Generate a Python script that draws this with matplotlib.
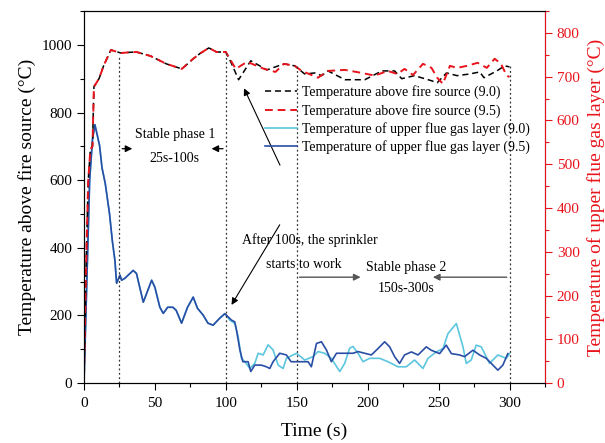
import matplotlib
matplotlib.use("Agg")
import matplotlib.pyplot as plt
from matplotlib.ticker import MultipleLocator

plt.rcParams['font.family'] = ['Liberation Serif', 'DejaVu Serif']

# --- data ---
# temperature above fire source, both runs share the curve up to 100 s
fire_t_early = [0, 1.5, 3, 4.5, 6, 7, 10.6, 14, 19, 26, 32, 37, 47, 58, 69, 77, 82, 88, 93.5, 100]
fire_v_early = [20, 350, 600, 690, 700, 876, 900, 940, 985, 976, 978, 979, 967, 944, 929, 959, 975, 991, 979, 979]

fire95_t_late = [107, 115, 127, 135, 141, 148.6, 153.5, 165, 172, 184, 196, 205, 214, 221, 226, 232,
                 239, 245, 249, 253, 258, 263, 270, 277.5, 284, 289.5, 294, 298, 300]
fire95_v_late = [929, 950, 929, 920, 944, 938, 923, 903, 923, 926, 917, 909, 923, 914, 929, 911,
                 944, 932, 903, 885, 938, 932, 938, 947, 932, 959, 944, 909, 905]

fire90_t_late = [104, 109, 117.6, 129, 141, 148.6, 155.6, 162.7, 167.6, 172, 184, 198, 210, 219, 224,
                 233, 245, 249, 255.6, 263, 272, 279, 282, 291, 296.5, 300]
fire90_v_late = [945, 897, 953, 926, 944, 938, 914, 917, 909, 923, 897, 897, 923, 923, 900,
                 909, 894, 888, 917, 909, 914, 920, 903, 923, 938, 935]

# temperature of upper flue gas layer, shared up to ~100 s
gas_t_early = [0, 2, 4, 6, 7.7, 9, 11, 12.7, 15, 18, 20, 21.8, 23, 25.4, 26.5, 28.9, 34.7, 37, 41.8,
               45, 47.7, 50, 53.5, 55.9, 59, 62.7, 65, 68.8, 73, 77, 80, 84, 87.4, 91, 95.8, 99.3]
gas_v_early = [0, 300, 600, 720, 764, 740, 702, 637, 590, 501, 420, 363, 295, 319, 304, 310, 333, 324, 239,
               274, 304, 283, 224, 206, 224, 224, 215, 177, 224, 254, 221, 201, 177, 171, 192, 205]

gas95_t_late = [104, 106.3, 107.5, 109.9, 112, 115.7, 117.6, 120.4, 125, 128.6, 131, 133.3, 138, 142.7,
                146, 149.8, 158, 160.3, 163.9, 167.4, 170.9, 174.4, 178, 183.8, 189.7, 193.2, 197.9,
                202.6, 207.3, 212, 215.5, 219, 222.5, 226, 230.8, 235.5, 241.3, 244.8, 250.7, 255.4,
                259, 264.8, 268.3, 274.2, 278.9, 283.6, 288.3, 291.8, 295.3, 298.8]
gas95_v_late = [186, 181, 157, 98, 63, 63, 34, 53, 53, 48, 43, 63, 88, 83,
                63, 63, 63, 48, 117, 122, 98, 63, 88, 88, 88, 93, 88,
                83, 102, 122, 107, 78, 58, 83, 92, 83, 107, 97, 87, 112,
                87, 83, 78, 97, 83, 73, 53, 38, 53, 87]

gas90_t_late = [102.8, 106.3, 108.7, 111, 113.4, 116.9, 120.4, 122.8, 126.3, 129.8, 133.3, 136.9, 140.4,
                142.7, 149.8, 155.6, 161.5, 165, 169.7, 174.4, 180.3, 183.8, 187.3, 189.7, 193.2, 196.7,
                201.4, 208.5, 214.3, 221.4, 227.2, 233.1, 239, 242.5, 248.4, 253.1, 256.6, 262.5, 267.2,
                269.5, 273, 276.5, 280.1, 285.9, 291.8, 297.7, 300]
gas90_v_late = [186, 176, 137, 73, 63, 43, 58, 88, 83, 113, 98, 53, 43,
                73, 88, 68, 78, 93, 88, 73, 34, 58, 103, 108, 88, 63,
                73, 73, 63, 48, 48, 68, 43, 73, 92, 102, 146, 176, 107,
                58, 68, 112, 107, 58, 83, 73, 87]

phase_lines = [25, 100, 150, 300]
phase_tops = [968, 975, 938, 938]

labels = ['Temperature above fire source (9.0)',
          'Temperature above fire source (9.5)',
          'Temperature of upper flue gas layer (9.0)',
          'Temperature of upper flue gas layer (9.5)']

RED = '#e8141c'
LIGHT = '#5cc6de'
DARK = '#2a4ea6'

fig = plt.figure(figsize=(6.05, 4.43), dpi=100)
ax = fig.add_axes([0.1388, 0.1354, 0.762, 0.8396])

h3, = ax.plot(gas_t_early + gas90_t_late, gas_v_early + gas90_v_late, color=LIGHT, lw=1.2)
h4, = ax.plot(gas_t_early + gas95_t_late, gas_v_early + gas95_v_late, color=DARK, lw=1.2)
h1, = ax.plot(fire_t_early + fire90_t_late, fire_v_early + fire90_v_late, color='black', lw=1.1,
              dashes=(4, 2.5))
h2, = ax.plot(fire_t_early + fire95_t_late, fire_v_early + fire95_v_late, color=RED, lw=1.4,
              dashes=(4, 2.5))

for x, top in zip(phase_lines, phase_tops):
    ax.plot([x, x], [0, top], color='#333333', lw=0.9, ls=(0, (1.5, 2)))

ax.set_xlim(0, 325)
ax.set_ylim(0, 1100)
ax.xaxis.set_major_locator(MultipleLocator(50))
ax.xaxis.set_minor_locator(MultipleLocator(25))
ax.yaxis.set_major_locator(MultipleLocator(200))
ax.yaxis.set_minor_locator(MultipleLocator(100))
ax.tick_params(which='major', direction='out', length=5, width=0.8, labelsize=11)
ax.tick_params(axis='x', which='major', pad=5)
ax.tick_params(which='minor', direction='out', length=3, width=0.8)
ax.set_xlabel('Time (s)', fontsize=14, labelpad=9)
ax.set_ylabel('Temperature above fire source (°C)', fontsize=14, labelpad=4)

ax2 = ax.twinx()
ax2.set_ylim(0, 850)
ax2.yaxis.set_major_locator(MultipleLocator(100))
ax2.yaxis.set_minor_locator(MultipleLocator(50))
ax2.tick_params(which='major', direction='out', length=5, width=0.8, colors=RED, labelsize=11)
ax2.tick_params(which='minor', direction='out', length=3, width=0.8, colors=RED)
ax2.spines['right'].set_color(RED)
ax2.set_ylabel('Temperature of upper flue gas layer (°C)', fontsize=14, color=RED, labelpad=5)

ax.legend([h1, h2, h3, h4], labels, loc='upper left', bbox_to_anchor=(0.392, 0.8),
          frameon=False, fontsize=10, borderpad=0, borderaxespad=0, handlelength=2.3,
          handletextpad=0.4, labelspacing=0.3)

# stable phase 1
ax.text(64, 734, 'Stable phase 1', ha='center', va='center', fontsize=10)
ax.text(64, 664, '25s-100s', ha='center', va='center', fontsize=10)
arrow_kw = dict(arrowstyle='-|>', color='black', lw=0.9, mutation_scale=10)
ax.annotate('', xy=(36, 693), xytext=(25, 693), arrowprops=arrow_kw)
ax.annotate('', xy=(88, 693), xytext=(100, 693), arrowprops=arrow_kw)

# sprinkler note
ax.text(159, 422, 'After 100s, the sprinkler', ha='center', va='center', fontsize=10)
ax.text(155, 351, 'starts to work', ha='center', va='center', fontsize=10)
ax.annotate('', xy=(112, 879), xytext=(139, 637),
            arrowprops=dict(arrowstyle='-|>', color='black', lw=0.8, mutation_scale=10))
ax.annotate('', xy=(103, 224), xytext=(139, 475),
            arrowprops=dict(arrowstyle='-|>', color='black', lw=0.8, mutation_scale=10))

# stable phase 2
ax.text(227, 342, 'Stable phase 2', ha='center', va='center', fontsize=10)
ax.text(227, 280, '150s-300s', ha='center', va='center', fontsize=10)
arrow_kw2 = dict(arrowstyle='-|>', color='#555555', lw=1.0, mutation_scale=10)
ax.annotate('', xy=(197, 313), xytext=(150, 313), arrowprops=arrow_kw2)
ax.annotate('', xy=(244, 313), xytext=(300, 313), arrowprops=arrow_kw2)

fig.savefig('out.png', dpi=100)
